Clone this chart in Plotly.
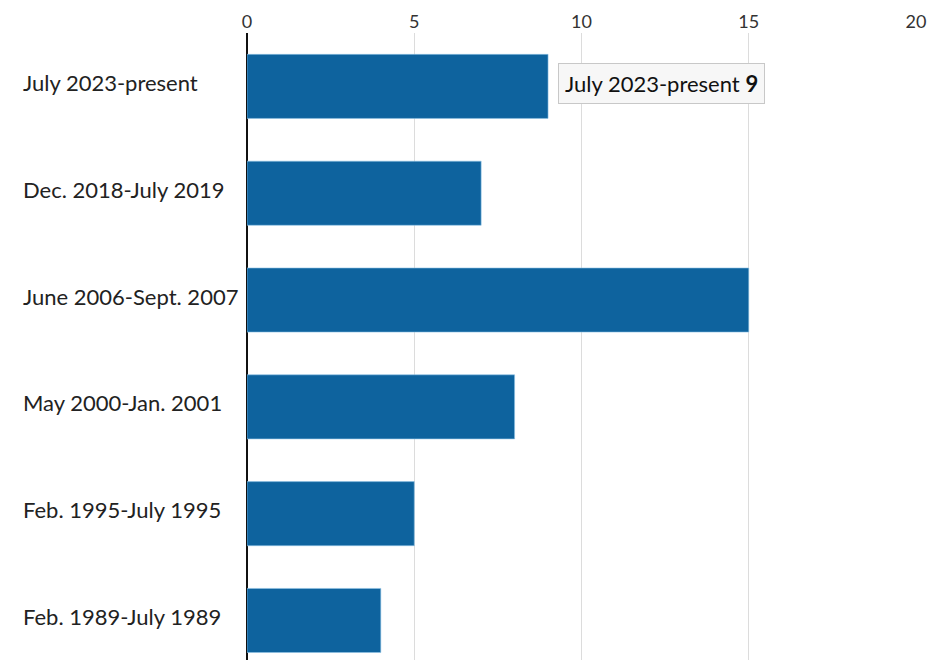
import plotly.graph_objects as go

# periodos e meses
periodos = ['July 2023-present', 'Dec. 2018-July 2019', 'June 2006-Sept. 2007',
            'May 2000-Jan. 2001', 'Feb. 1995-July 1995', 'Feb. 1989-July 1989']
meses = [9, 7, 15, 8, 5, 4]
ticks_x = [0, 5, 10, 15, 20]

fig = go.Figure()
fig.add_trace(go.Bar(x=meses,
                     y=periodos,
                     orientation='h',
                     marker=dict(color='#0e639e',
                                 line=dict(color='#8ec3e6', width=0.6)),
                     hoverinfo='skip'))

# rotulos alinhados a esquerda
for p in periodos:
    fig.add_annotation(x=0, y=p, xref='paper', yref='y', text=p,
                       xanchor='left', showarrow=False, xshift=-226, yshift=4,
                       font=dict(family='Lato', size=22, color='#222222'))

# caixa tipo tooltip
fig.add_annotation(x=meses[0], y=periodos[0], text=periodos[0] + ' <b>9</b>',
                   xanchor='left', showarrow=False, xshift=10, yshift=3,
                   bgcolor='#f7f7f7', bordercolor='#c8c8c8', borderwidth=1,
                   borderpad=6, font=dict(family='Lato', size=22, color='#111111'))

# pagina tem margem de 8px no body
fig.update_layout(width=939, height=652,
                  margin=dict(l=239, r=31, t=25, b=0),
                  plot_bgcolor='white', paper_bgcolor='white',
                  bargap=0.4, showlegend=False,
                  font=dict(family='Lato'))
fig.update_xaxes(side='top', range=[0, 20], tickvals=ticks_x,
                 showgrid=True, gridcolor='#dcdcdc', gridwidth=1,
                 zeroline=True, zerolinecolor='#111111', zerolinewidth=1.5,
                 ticks='', tickfont=dict(size=18, color='#333333'))
fig.update_yaxes(categoryorder='array', categoryarray=periodos,
                 range=[5.37, -0.5], showticklabels=False, showgrid=False,
                 ticks='')

fig.write_html("out.html")
